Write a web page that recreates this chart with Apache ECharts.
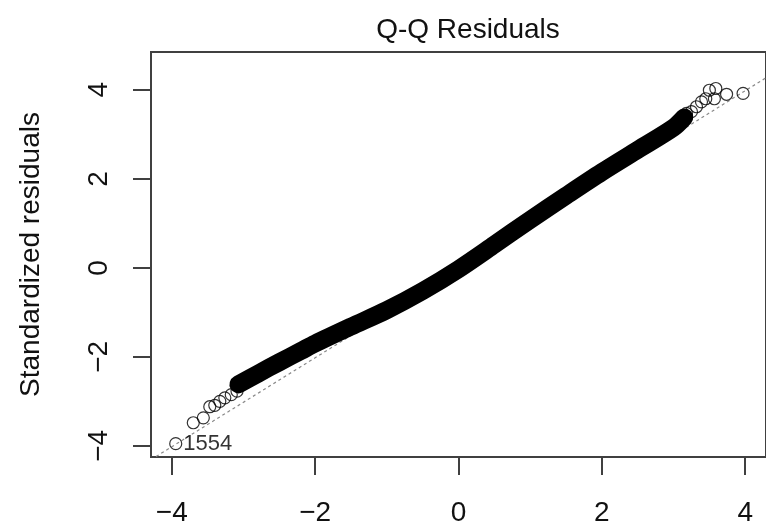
<!DOCTYPE html>
<html>
<head>
<meta charset="utf-8">
<title>Q-Q Residuals</title>
<script src="https://cdn.jsdelivr.net/npm/echarts@6/dist/echarts.min.js"></script>
<style>
    html,body{margin:0;padding:0;background:#fff;}
    #qqChart{width:766px;height:527px;}
</style>
</head>
<body>
<div id="qqChart"></div>
<script>
// band of overlapping points (theoretical quantile, standardized residual)
var bandX = [-3.07, -2.8, -2.5, -2.2, -2.0, -1.5, -1.0, -0.5, 0, 0.5, 1.0, 1.5, 2.0, 2.5, 3.0, 3.15];
var bandY = [-2.62, -2.38, -2.12, -1.87, -1.70, -1.32, -0.95, -0.52, -0.03, 0.52, 1.08, 1.62, 2.15, 2.65, 3.15, 3.38];
// separate circles in the tails
var tailX = [-3.945, -3.70, -3.56, -3.47, -3.40, -3.33, -3.26, -3.17, -3.09, 3.18, 3.25, 3.32, 3.39, 3.45, 3.57, 3.50, 3.59, 3.74, 3.97];
var tailY = [-3.95, -3.48, -3.37, -3.12, -3.09, -3.00, -2.92, -2.85, -2.77, 3.47, 3.51, 3.62, 3.73, 3.80, 3.80, 3.99, 4.03, 3.90, 3.92];
var tailNames = ['1554'];
// qqline
var lineIntercept = -0.02;
var lineSlope = 1.0;
var xTicks = [-4, -2, 0, 2, 4];
var yTicks = [-4, -2, 0, 2, 4];
var xRange = [-4.29, 4.29];
var yRange = [-4.25, 4.85];

var fontName = '"Liberation Sans", Arial, sans-serif';
var qqChart = echarts.init(document.getElementById('qqChart'));

let bandData = bandX.map((x, i) => [x, bandY[i]]);
let tailData = tailX.map((x, i) => {
    let item = {value: [x, tailY[i]]};
    if (tailNames[i]) {
        item.label = {
            show: true,
            position: 'right',
            distance: 1,
            formatter: tailNames[i],
            fontSize: 22,
            fontFamily: fontName,
            color: '#000'
        };
    }
    return item;
});
let refLine = xRange.map((x) => [x, lineIntercept + lineSlope * x]);

function minusLabel(v){
    return String(v).replace('-', '\u2212');
}

let option = {
    animation: false,
    title: {
        text: 'Q-Q Residuals',
        left: 463,
        top: 11,
        textAlign: 'center',
        textStyle: {
            fontFamily: fontName,
            fontSize: 28,
            fontWeight: 'normal',
            color: '#111'
        }
    },
    grid: {
        left: 151,
        top: 52,
        right: -9,
        bottom: 69,
        show: true,
        borderColor: '#404040',
        borderWidth: 2
    },
    xAxis: {
        type: 'value',
        min: xRange[0],
        max: xRange[1],
        axisLine: {show: false, onZero: false},
        splitLine: {show: false},
        axisTick: {
            show: true,
            length: 18,
            customValues: xTicks,
            lineStyle: {color: '#404040', width: 2}
        },
        axisLabel: {
            customValues: xTicks,
            formatter: minusLabel,
            margin: 42,
            fontSize: 28,
            fontFamily: fontName,
            color: '#111'
        }
    },
    yAxis: {
        type: 'value',
        min: yRange[0],
        max: yRange[1],
        name: 'Standardized residuals',
        nameLocation: 'middle',
        nameGap: 106,
        nameTextStyle: {
            fontFamily: fontName,
            fontSize: 28,
            color: '#111'
        },
        axisLine: {show: false, onZero: false},
        splitLine: {show: false},
        axisTick: {
            show: true,
            length: 18,
            customValues: yTicks,
            lineStyle: {color: '#404040', width: 2}
        },
        axisLabel: {
            customValues: yTicks,
            formatter: minusLabel,
            rotate: 90,
            margin: 38,
            fontSize: 28,
            fontFamily: fontName,
            color: '#111'
        }
    },
    series: [
        {
            name: 'qqline',
            type: 'line',
            data: refLine,
            symbol: 'none',
            silent: true,
            lineStyle: {color: '#8a8a8a', width: 1.2, type: [3, 3]},
            z: 1
        },
        {
            name: 'residuals',
            type: 'line',
            data: bandData,
            symbol: 'none',
            smooth: 0.3,
            lineStyle: {color: '#000', width: 18, cap: 'round', join: 'round'},
            z: 2
        },
        {
            name: 'tails',
            type: 'scatter',
            data: tailData,
            symbol: 'circle',
            symbolSize: 12,
            itemStyle: {color: 'rgba(0,0,0,0)', borderColor: '#000', borderWidth: 1.2},
            z: 3
        }
    ]
};
qqChart.setOption(option);
</script>
</body>
</html>
